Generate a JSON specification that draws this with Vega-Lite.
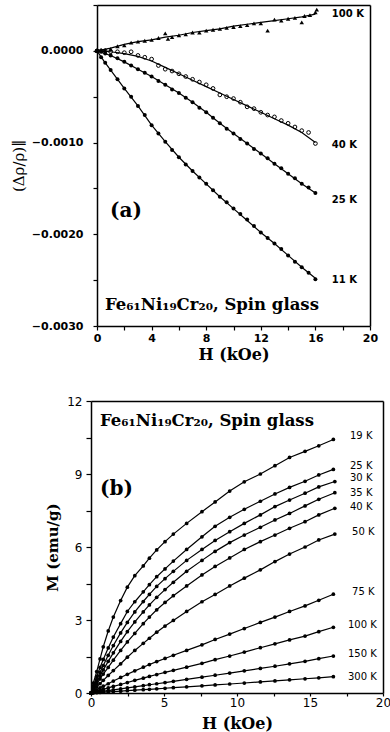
{
  "$schema": "https://vega.github.io/schema/vega-lite/v6.json",
  "autosize": "none",
  "padding": {"left": 91, "top": 5, "right": 299, "bottom": 727},
  "background": "white",
  "spacing": 33,
  "config": {
    "view": {"stroke": null},
    "axis": {"grid": false, "domainColor": "black", "tickColor": "black", "labelColor": "black", "titleColor": "black", "domainWidth": 1.5, "tickWidth": 1.2, "labelOverlap": false, "labelFlush": false}
  },
  "datasets": {
    "fitA": [
      {"T":"100 K","H":0,"v":0},{"T":"100 K","H":1,"v":0.00003},{"T":"100 K","H":2,"v":0.00007},{"T":"100 K","H":3,"v":0.0001},{"T":"100 K","H":4,"v":0.00012},{"T":"100 K","H":5,"v":0.00015},{"T":"100 K","H":6,"v":0.00017},{"T":"100 K","H":7,"v":0.0002},{"T":"100 K","H":8,"v":0.00022},{"T":"100 K","H":9,"v":0.00024},{"T":"100 K","H":10,"v":0.00027},{"T":"100 K","H":11,"v":0.00029},{"T":"100 K","H":12,"v":0.00031},{"T":"100 K","H":13,"v":0.00033},{"T":"100 K","H":14,"v":0.00035},{"T":"100 K","H":15,"v":0.00037},{"T":"100 K","H":16,"v":0.0004},
      {"T":"40 K","H":0,"v":0},{"T":"40 K","H":1,"v":-0.00001},{"T":"40 K","H":2,"v":-0.00003},{"T":"40 K","H":3,"v":-0.00006},{"T":"40 K","H":4,"v":-0.00011},{"T":"40 K","H":5,"v":-0.00018},{"T":"40 K","H":6,"v":-0.00025},{"T":"40 K","H":7,"v":-0.00032},{"T":"40 K","H":8,"v":-0.00039},{"T":"40 K","H":9,"v":-0.00046},{"T":"40 K","H":10,"v":-0.00053},{"T":"40 K","H":11,"v":-0.0006},{"T":"40 K","H":12,"v":-0.00067},{"T":"40 K","H":13,"v":-0.00074},{"T":"40 K","H":14,"v":-0.00081},{"T":"40 K","H":15,"v":-0.00089},{"T":"40 K","H":16,"v":-0.001},
      {"T":"25 K","H":0,"v":0},{"T":"25 K","H":1,"v":-0.00005},{"T":"25 K","H":2,"v":-0.00012},{"T":"25 K","H":3,"v":-0.0002},{"T":"25 K","H":4,"v":-0.00028},{"T":"25 K","H":5,"v":-0.00037},{"T":"25 K","H":6,"v":-0.00046},{"T":"25 K","H":7,"v":-0.00056},{"T":"25 K","H":8,"v":-0.00067},{"T":"25 K","H":9,"v":-0.00079},{"T":"25 K","H":10,"v":-0.0009},{"T":"25 K","H":11,"v":-0.00101},{"T":"25 K","H":12,"v":-0.00112},{"T":"25 K","H":13,"v":-0.00123},{"T":"25 K","H":14,"v":-0.00134},{"T":"25 K","H":15,"v":-0.00145},{"T":"25 K","H":16,"v":-0.00155},
      {"T":"11 K","H":0,"v":0},{"T":"11 K","H":0.5,"v":-0.00011},{"T":"11 K","H":1,"v":-0.00021},{"T":"11 K","H":2,"v":-0.00041},{"T":"11 K","H":3,"v":-0.0006},{"T":"11 K","H":4,"v":-0.00081},{"T":"11 K","H":5,"v":-0.00099},{"T":"11 K","H":6,"v":-0.00116},{"T":"11 K","H":7,"v":-0.00131},{"T":"11 K","H":8,"v":-0.00145},{"T":"11 K","H":9,"v":-0.00159},{"T":"11 K","H":10,"v":-0.00172},{"T":"11 K","H":11,"v":-0.00185},{"T":"11 K","H":12,"v":-0.00198},{"T":"11 K","H":13,"v":-0.0021},{"T":"11 K","H":14,"v":-0.00223},{"T":"11 K","H":15,"v":-0.00236},{"T":"11 K","H":16,"v":-0.00248}
    ],
    "ptsA": [
      {"T":"100 K","H":0,"v":0},{"T":"100 K","H":0.3,"v":0.00001},{"T":"100 K","H":0.6,"v":0.00001},{"T":"100 K","H":1,"v":0.00002},{"T":"100 K","H":1.5,"v":0.00005},{"T":"100 K","H":2,"v":0.00006},{"T":"100 K","H":2.5,"v":0.00009},{"T":"100 K","H":3,"v":0.0001},{"T":"100 K","H":3.5,"v":0.00011},{"T":"100 K","H":4,"v":0.00012},{"T":"100 K","H":4.5,"v":0.00014},{"T":"100 K","H":5,"v":0.00019},{"T":"100 K","H":5.2,"v":0.00013},{"T":"100 K","H":5.5,"v":0.00015},{"T":"100 K","H":6,"v":0.00017},{"T":"100 K","H":6.5,"v":0.00018},{"T":"100 K","H":7,"v":0.0002},{"T":"100 K","H":7.5,"v":0.0002},{"T":"100 K","H":8,"v":0.00022},{"T":"100 K","H":8.5,"v":0.00023},{"T":"100 K","H":9,"v":0.00024},{"T":"100 K","H":9.5,"v":0.00025},{"T":"100 K","H":10,"v":0.00026},{"T":"100 K","H":10.5,"v":0.00027},{"T":"100 K","H":11,"v":0.00028},{"T":"100 K","H":11.5,"v":0.0003},{"T":"100 K","H":12,"v":0.0003},{"T":"100 K","H":12.5,"v":0.00022},{"T":"100 K","H":13,"v":0.00034},{"T":"100 K","H":13.5,"v":0.00033},{"T":"100 K","H":14,"v":0.00035},{"T":"100 K","H":14.5,"v":0.00036},{"T":"100 K","H":15,"v":0.00031},{"T":"100 K","H":15.2,"v":0.00038},{"T":"100 K","H":15.6,"v":0.00039},{"T":"100 K","H":16,"v":0.00042},{"T":"100 K","H":16.1,"v":0.00045},
      {"T":"40 K","H":0,"v":0},{"T":"40 K","H":0.3,"v":0},{"T":"40 K","H":0.6,"v":0},{"T":"40 K","H":1,"v":-0.00001},{"T":"40 K","H":1.5,"v":-0.00001},{"T":"40 K","H":2,"v":-0.00002},{"T":"40 K","H":2.5,"v":-0.00001},{"T":"40 K","H":3,"v":-0.00005},{"T":"40 K","H":3.5,"v":-0.00007},{"T":"40 K","H":4,"v":-0.00009},{"T":"40 K","H":4.5,"v":-0.00016},{"T":"40 K","H":5,"v":-0.0002},{"T":"40 K","H":5.5,"v":-0.00022},{"T":"40 K","H":6,"v":-0.00025},{"T":"40 K","H":6.5,"v":-0.00028},{"T":"40 K","H":7,"v":-0.00031},{"T":"40 K","H":7.5,"v":-0.00034},{"T":"40 K","H":8,"v":-0.00037},{"T":"40 K","H":8.5,"v":-0.00041},{"T":"40 K","H":9,"v":-0.00048},{"T":"40 K","H":9.5,"v":-0.0005},{"T":"40 K","H":10,"v":-0.00052},{"T":"40 K","H":10.5,"v":-0.00056},{"T":"40 K","H":11,"v":-0.00061},{"T":"40 K","H":11.5,"v":-0.00063},{"T":"40 K","H":12,"v":-0.00067},{"T":"40 K","H":12.5,"v":-0.0007},{"T":"40 K","H":13,"v":-0.00072},{"T":"40 K","H":13.5,"v":-0.00076},{"T":"40 K","H":14,"v":-0.00079},{"T":"40 K","H":14.5,"v":-0.00083},{"T":"40 K","H":15,"v":-0.00087},{"T":"40 K","H":15.5,"v":-0.00089},{"T":"40 K","H":16,"v":-0.00101},
      {"T":"25 K","H":0,"v":0},{"T":"25 K","H":0.3,"v":-0.00001},{"T":"25 K","H":0.6,"v":-0.00003},{"T":"25 K","H":1,"v":-0.00005},{"T":"25 K","H":1.5,"v":-0.00008},{"T":"25 K","H":2,"v":-0.00012},{"T":"25 K","H":2.5,"v":-0.00016},{"T":"25 K","H":3,"v":-0.0002},{"T":"25 K","H":3.5,"v":-0.00024},{"T":"25 K","H":4,"v":-0.00028},{"T":"25 K","H":4.5,"v":-0.00033},{"T":"25 K","H":5,"v":-0.00037},{"T":"25 K","H":5.5,"v":-0.00042},{"T":"25 K","H":6,"v":-0.00046},{"T":"25 K","H":6.5,"v":-0.00051},{"T":"25 K","H":7,"v":-0.00056},{"T":"25 K","H":7.5,"v":-0.00062},{"T":"25 K","H":8,"v":-0.00067},{"T":"25 K","H":8.5,"v":-0.00073},{"T":"25 K","H":9,"v":-0.00079},{"T":"25 K","H":9.5,"v":-0.00085},{"T":"25 K","H":10,"v":-0.0009},{"T":"25 K","H":10.5,"v":-0.00096},{"T":"25 K","H":11,"v":-0.00101},{"T":"25 K","H":11.5,"v":-0.00107},{"T":"25 K","H":12,"v":-0.00112},{"T":"25 K","H":12.5,"v":-0.00117},{"T":"25 K","H":13,"v":-0.00123},{"T":"25 K","H":13.5,"v":-0.00128},{"T":"25 K","H":14,"v":-0.00134},{"T":"25 K","H":14.5,"v":-0.00139},{"T":"25 K","H":15,"v":-0.00145},{"T":"25 K","H":15.5,"v":-0.00149},{"T":"25 K","H":16,"v":-0.00155},
      {"T":"11 K","H":0,"v":0},{"T":"11 K","H":0.3,"v":-0.00007},{"T":"11 K","H":0.6,"v":-0.00013},{"T":"11 K","H":1,"v":-0.00021},{"T":"11 K","H":1.5,"v":-0.00031},{"T":"11 K","H":2,"v":-0.00041},{"T":"11 K","H":2.5,"v":-0.0005},{"T":"11 K","H":3,"v":-0.0006},{"T":"11 K","H":3.5,"v":-0.0007},{"T":"11 K","H":4,"v":-0.00081},{"T":"11 K","H":4.5,"v":-0.0009},{"T":"11 K","H":5,"v":-0.00099},{"T":"11 K","H":5.5,"v":-0.00108},{"T":"11 K","H":6,"v":-0.00116},{"T":"11 K","H":6.5,"v":-0.00124},{"T":"11 K","H":7,"v":-0.00131},{"T":"11 K","H":7.5,"v":-0.00138},{"T":"11 K","H":8,"v":-0.00145},{"T":"11 K","H":8.5,"v":-0.00152},{"T":"11 K","H":9,"v":-0.00159},{"T":"11 K","H":9.5,"v":-0.00165},{"T":"11 K","H":10,"v":-0.00172},{"T":"11 K","H":10.5,"v":-0.00178},{"T":"11 K","H":11,"v":-0.00184},{"T":"11 K","H":11.5,"v":-0.00191},{"T":"11 K","H":12,"v":-0.00198},{"T":"11 K","H":12.5,"v":-0.00204},{"T":"11 K","H":13,"v":-0.0021},{"T":"11 K","H":13.5,"v":-0.00216},{"T":"11 K","H":14,"v":-0.00223},{"T":"11 K","H":14.5,"v":-0.0023},{"T":"11 K","H":15,"v":-0.00236},{"T":"11 K","H":15.5,"v":-0.00242},{"T":"11 K","H":16,"v":-0.00249}
    ],
    "labA": [
      {"label":"100 K","H":17.2,"v":0.000407},{"label":"40 K","H":17.2,"v":-0.00103},{"label":"25 K","H":17.2,"v":-0.00163},{"label":"11 K","H":17.2,"v":-0.0025}
    ],
    "annA": [
      {"label":"(a)","H":0.95,"v":-0.00175,"kind":"tag"},
      {"label":"Fe₆₁Ni₁₉Cr₂₀,  Spin  glass","H":0.59,"v":-0.00277,"kind":"title"}
    ],
    "mag": [
      {"T":"19 K","H":0,"M":0},{"T":"19 K","H":0.16,"M":0.41},{"T":"19 K","H":0.39,"M":0.88},{"T":"19 K","H":0.62,"M":1.4},{"T":"19 K","H":0.84,"M":1.9},{"T":"19 K","H":1.18,"M":2.55},{"T":"19 K","H":1.53,"M":3.12},{"T":"19 K","H":2.03,"M":3.8},{"T":"19 K","H":2.49,"M":4.35},{"T":"19 K","H":3.0,"M":4.82},{"T":"19 K","H":3.58,"M":5.22},{"T":"19 K","H":4.0,"M":5.54},{"T":"19 K","H":4.5,"M":5.88},{"T":"19 K","H":5.07,"M":6.22},{"T":"19 K","H":5.64,"M":6.53},{"T":"19 K","H":6.55,"M":6.97},{"T":"19 K","H":7.6,"M":7.45},{"T":"19 K","H":8.5,"M":7.85},{"T":"19 K","H":9.5,"M":8.3},{"T":"19 K","H":10.5,"M":8.68},{"T":"19 K","H":11.6,"M":9.0},{"T":"19 K","H":12.6,"M":9.34},{"T":"19 K","H":13.6,"M":9.68},{"T":"19 K","H":14.66,"M":9.93},{"T":"19 K","H":15.6,"M":10.16},{"T":"19 K","H":16.6,"M":10.42},
      {"T":"25 K","H":0,"M":0},{"T":"25 K","H":0.16,"M":0.28},{"T":"25 K","H":0.39,"M":0.68},{"T":"25 K","H":0.62,"M":1.05},{"T":"25 K","H":0.84,"M":1.38},{"T":"25 K","H":1.18,"M":1.85},{"T":"25 K","H":1.53,"M":2.3},{"T":"25 K","H":2.03,"M":2.85},{"T":"25 K","H":2.49,"M":3.35},{"T":"25 K","H":3.0,"M":3.75},{"T":"25 K","H":3.58,"M":4.16},{"T":"25 K","H":4.0,"M":4.45},{"T":"25 K","H":4.5,"M":4.78},{"T":"25 K","H":5.07,"M":5.1},{"T":"25 K","H":5.64,"M":5.42},{"T":"25 K","H":6.55,"M":5.9},{"T":"25 K","H":7.6,"M":6.42},{"T":"25 K","H":8.5,"M":6.85},{"T":"25 K","H":9.5,"M":7.22},{"T":"25 K","H":10.5,"M":7.55},{"T":"25 K","H":11.6,"M":7.88},{"T":"25 K","H":12.6,"M":8.18},{"T":"25 K","H":13.6,"M":8.45},{"T":"25 K","H":14.66,"M":8.7},{"T":"25 K","H":15.6,"M":8.96},{"T":"25 K","H":16.6,"M":9.19},
      {"T":"30 K","H":0,"M":0},{"T":"30 K","H":0.16,"M":0.22},{"T":"30 K","H":0.39,"M":0.55},{"T":"30 K","H":0.62,"M":0.85},{"T":"30 K","H":0.84,"M":1.13},{"T":"30 K","H":1.18,"M":1.55},{"T":"30 K","H":1.53,"M":1.95},{"T":"30 K","H":2.03,"M":2.47},{"T":"30 K","H":2.49,"M":2.9},{"T":"30 K","H":3.0,"M":3.33},{"T":"30 K","H":3.58,"M":3.76},{"T":"30 K","H":4.0,"M":4.05},{"T":"30 K","H":4.5,"M":4.38},{"T":"30 K","H":5.07,"M":4.7},{"T":"30 K","H":5.64,"M":5.0},{"T":"30 K","H":6.55,"M":5.45},{"T":"30 K","H":7.6,"M":5.9},{"T":"30 K","H":8.5,"M":6.27},{"T":"30 K","H":9.5,"M":6.63},{"T":"30 K","H":10.5,"M":6.97},{"T":"30 K","H":11.6,"M":7.32},{"T":"30 K","H":12.6,"M":7.66},{"T":"30 K","H":13.6,"M":7.93},{"T":"30 K","H":14.66,"M":8.21},{"T":"30 K","H":15.6,"M":8.47},{"T":"30 K","H":16.7,"M":8.69},
      {"T":"35 K","H":0,"M":0},{"T":"35 K","H":0.16,"M":0.18},{"T":"35 K","H":0.39,"M":0.45},{"T":"35 K","H":0.62,"M":0.7},{"T":"35 K","H":0.84,"M":0.95},{"T":"35 K","H":1.18,"M":1.3},{"T":"35 K","H":1.53,"M":1.65},{"T":"35 K","H":2.03,"M":2.12},{"T":"35 K","H":2.49,"M":2.52},{"T":"35 K","H":3.0,"M":2.92},{"T":"35 K","H":3.58,"M":3.33},{"T":"35 K","H":4.0,"M":3.62},{"T":"35 K","H":4.5,"M":3.93},{"T":"35 K","H":5.07,"M":4.25},{"T":"35 K","H":5.64,"M":4.55},{"T":"35 K","H":6.55,"M":5.0},{"T":"35 K","H":7.6,"M":5.45},{"T":"35 K","H":8.5,"M":5.82},{"T":"35 K","H":9.5,"M":6.18},{"T":"35 K","H":10.5,"M":6.49},{"T":"35 K","H":11.6,"M":6.81},{"T":"35 K","H":12.6,"M":7.11},{"T":"35 K","H":13.6,"M":7.38},{"T":"35 K","H":14.66,"M":7.69},{"T":"35 K","H":15.6,"M":7.96},{"T":"35 K","H":16.7,"M":8.23},
      {"T":"40 K","H":0,"M":0},{"T":"40 K","H":0.16,"M":0.15},{"T":"40 K","H":0.39,"M":0.37},{"T":"40 K","H":0.62,"M":0.58},{"T":"40 K","H":0.84,"M":0.78},{"T":"40 K","H":1.18,"M":1.05},{"T":"40 K","H":1.53,"M":1.35},{"T":"40 K","H":2.03,"M":1.75},{"T":"40 K","H":2.49,"M":2.1},{"T":"40 K","H":3.0,"M":2.45},{"T":"40 K","H":3.58,"M":2.85},{"T":"40 K","H":4.0,"M":3.12},{"T":"40 K","H":4.5,"M":3.42},{"T":"40 K","H":5.07,"M":3.72},{"T":"40 K","H":5.64,"M":4.0},{"T":"40 K","H":6.55,"M":4.4},{"T":"40 K","H":7.6,"M":4.85},{"T":"40 K","H":8.5,"M":5.2},{"T":"40 K","H":9.5,"M":5.55},{"T":"40 K","H":10.5,"M":5.9},{"T":"40 K","H":11.6,"M":6.22},{"T":"40 K","H":12.6,"M":6.49},{"T":"40 K","H":13.6,"M":6.77},{"T":"40 K","H":14.66,"M":7.04},{"T":"40 K","H":15.6,"M":7.32},{"T":"40 K","H":16.7,"M":7.59},
      {"T":"50 K","H":0,"M":0},{"T":"50 K","H":0.16,"M":0.1},{"T":"50 K","H":0.39,"M":0.25},{"T":"50 K","H":0.62,"M":0.39},{"T":"50 K","H":0.84,"M":0.52},{"T":"50 K","H":1.18,"M":0.72},{"T":"50 K","H":1.53,"M":0.92},{"T":"50 K","H":2.03,"M":1.2},{"T":"50 K","H":2.49,"M":1.47},{"T":"50 K","H":3.0,"M":1.75},{"T":"50 K","H":3.58,"M":2.04},{"T":"50 K","H":4.0,"M":2.25},{"T":"50 K","H":4.5,"M":2.5},{"T":"50 K","H":5.07,"M":2.75},{"T":"50 K","H":5.64,"M":2.98},{"T":"50 K","H":6.55,"M":3.35},{"T":"50 K","H":7.6,"M":3.75},{"T":"50 K","H":8.5,"M":4.05},{"T":"50 K","H":9.5,"M":4.4},{"T":"50 K","H":10.5,"M":4.72},{"T":"50 K","H":11.6,"M":5.06},{"T":"50 K","H":12.6,"M":5.4},{"T":"50 K","H":13.6,"M":5.71},{"T":"50 K","H":14.66,"M":6.0},{"T":"50 K","H":15.6,"M":6.29},{"T":"50 K","H":16.7,"M":6.53},
      {"T":"75 K","H":0,"M":0},{"T":"75 K","H":0.16,"M":0.05},{"T":"75 K","H":0.39,"M":0.13},{"T":"75 K","H":0.62,"M":0.21},{"T":"75 K","H":0.84,"M":0.28},{"T":"75 K","H":1.18,"M":0.38},{"T":"75 K","H":1.53,"M":0.49},{"T":"75 K","H":2.03,"M":0.64},{"T":"75 K","H":2.49,"M":0.77},{"T":"75 K","H":3.0,"M":0.91},{"T":"75 K","H":3.58,"M":1.06},{"T":"75 K","H":4.0,"M":1.17},{"T":"75 K","H":4.5,"M":1.29},{"T":"75 K","H":5.07,"M":1.42},{"T":"75 K","H":5.64,"M":1.55},{"T":"75 K","H":6.55,"M":1.75},{"T":"75 K","H":7.6,"M":1.98},{"T":"75 K","H":8.5,"M":2.2},{"T":"75 K","H":9.5,"M":2.42},{"T":"75 K","H":10.5,"M":2.65},{"T":"75 K","H":11.6,"M":2.9},{"T":"75 K","H":12.6,"M":3.12},{"T":"75 K","H":13.6,"M":3.35},{"T":"75 K","H":14.66,"M":3.58},{"T":"75 K","H":15.6,"M":3.81},{"T":"75 K","H":16.6,"M":4.06},
      {"T":"100 K","H":0,"M":0},{"T":"100 K","H":0.16,"M":0.03},{"T":"100 K","H":0.39,"M":0.07},{"T":"100 K","H":0.62,"M":0.11},{"T":"100 K","H":0.84,"M":0.15},{"T":"100 K","H":1.18,"M":0.21},{"T":"100 K","H":1.53,"M":0.27},{"T":"100 K","H":2.03,"M":0.35},{"T":"100 K","H":2.49,"M":0.43},{"T":"100 K","H":3.0,"M":0.52},{"T":"100 K","H":3.58,"M":0.61},{"T":"100 K","H":4.0,"M":0.68},{"T":"100 K","H":4.5,"M":0.76},{"T":"100 K","H":5.07,"M":0.85},{"T":"100 K","H":5.64,"M":0.93},{"T":"100 K","H":6.55,"M":1.06},{"T":"100 K","H":7.6,"M":1.22},{"T":"100 K","H":8.5,"M":1.37},{"T":"100 K","H":9.5,"M":1.52},{"T":"100 K","H":10.5,"M":1.68},{"T":"100 K","H":11.6,"M":1.86},{"T":"100 K","H":12.6,"M":2.02},{"T":"100 K","H":13.6,"M":2.18},{"T":"100 K","H":14.66,"M":2.34},{"T":"100 K","H":15.6,"M":2.52},{"T":"100 K","H":16.6,"M":2.7},
      {"T":"150 K","H":0,"M":0},{"T":"150 K","H":0.16,"M":0.015},{"T":"150 K","H":0.39,"M":0.035},{"T":"150 K","H":0.62,"M":0.055},{"T":"150 K","H":0.84,"M":0.075},{"T":"150 K","H":1.18,"M":0.1},{"T":"150 K","H":1.53,"M":0.13},{"T":"150 K","H":2.03,"M":0.17},{"T":"150 K","H":2.49,"M":0.21},{"T":"150 K","H":3.0,"M":0.25},{"T":"150 K","H":3.58,"M":0.3},{"T":"150 K","H":4.0,"M":0.34},{"T":"150 K","H":4.5,"M":0.38},{"T":"150 K","H":5.07,"M":0.43},{"T":"150 K","H":5.64,"M":0.48},{"T":"150 K","H":6.55,"M":0.56},{"T":"150 K","H":7.6,"M":0.65},{"T":"150 K","H":8.5,"M":0.73},{"T":"150 K","H":9.5,"M":0.82},{"T":"150 K","H":10.5,"M":0.91},{"T":"150 K","H":11.6,"M":1.01},{"T":"150 K","H":12.6,"M":1.1},{"T":"150 K","H":13.6,"M":1.2},{"T":"150 K","H":14.66,"M":1.3},{"T":"150 K","H":15.6,"M":1.41},{"T":"150 K","H":16.6,"M":1.52},
      {"T":"300 K","H":0,"M":0},{"T":"300 K","H":0.16,"M":0.006},{"T":"300 K","H":0.39,"M":0.015},{"T":"300 K","H":0.62,"M":0.024},{"T":"300 K","H":0.84,"M":0.032},{"T":"300 K","H":1.18,"M":0.045},{"T":"300 K","H":1.53,"M":0.058},{"T":"300 K","H":2.03,"M":0.077},{"T":"300 K","H":2.49,"M":0.095},{"T":"300 K","H":3.0,"M":0.115},{"T":"300 K","H":3.58,"M":0.137},{"T":"300 K","H":4.0,"M":0.153},{"T":"300 K","H":4.5,"M":0.172},{"T":"300 K","H":5.07,"M":0.195},{"T":"300 K","H":5.64,"M":0.217},{"T":"300 K","H":6.55,"M":0.252},{"T":"300 K","H":7.6,"M":0.293},{"T":"300 K","H":8.5,"M":0.33},{"T":"300 K","H":9.5,"M":0.37},{"T":"300 K","H":10.5,"M":0.41},{"T":"300 K","H":11.6,"M":0.455},{"T":"300 K","H":12.6,"M":0.495},{"T":"300 K","H":13.6,"M":0.54},{"T":"300 K","H":14.66,"M":0.585},{"T":"300 K","H":15.6,"M":0.625},{"T":"300 K","H":16.6,"M":0.67}
    ],
    "labB": [
      {"label":"19 K","H":17.74,"M":10.56},{"label":"25 K","H":17.74,"M":9.33},{"label":"30 K","H":17.74,"M":8.82},{"label":"35 K","H":17.74,"M":8.23},{"label":"40 K","H":17.74,"M":7.66},{"label":"50 K","H":17.88,"M":6.63},{"label":"75 K","H":17.88,"M":4.16},{"label":"100 K","H":17.6,"M":2.79},{"label":"150 K","H":17.6,"M":1.6},{"label":"300 K","H":17.6,"M":0.67}
    ],
    "annB": [
      {"label":"(b)","H":0.62,"M":8.38,"kind":"tag"},
      {"label":"Fe₆₁Ni₁₉Cr₂₀,  Spin  glass","H":0.62,"M":11.18,"kind":"title"}
    ]
  },
  "vconcat": [
    {
      "width": 279,
      "height": 321,
      "resolve": {"axis": {"x": "independent", "y": "independent"}},
      "layer": [
        {
          "data": {"name": "fitA"},
          "mark": {"type": "line", "color": "black", "strokeWidth": 1.2},
          "encoding": {
            "x": {"field": "H", "type": "quantitative", "scale": {"domain": [0, 20], "range": [6, 279], "nice": false, "zero": false},
              "axis": {"orient": "bottom", "values": [0,2,4,6,8,10,12,14,16,18,20], "labelExpr": "datum.value % 4 === 0 ? datum.label : ''", "title": "H (kOe)", "tickSize": 4, "labelPadding": 2, "labelFont": "DejaVu Sans", "labelFontSize": 11, "labelFontWeight": "bold", "titleFont": "DejaVu Serif", "titleFontSize": 16, "titleFontWeight": "bold", "titlePadding": 3}},
            "y": {"field": "v", "type": "quantitative", "scale": {"domain": [-0.003, 0.0005], "nice": false, "zero": false},
              "axis": {"orient": "left", "offset": -6, "values": [-0.003,-0.0025,-0.002,-0.0015,-0.001,-0.0005,0,0.0005], "labelExpr": "abs(datum.value*1000 - round(datum.value*1000)) < 0.001 && datum.value <= 0 ? format(datum.value, '.4f') : ''", "title": "(Δρ/ρ)∥", "tickSize": 4, "labelPadding": 10, "labelFont": "DejaVu Sans", "labelFontSize": 11, "labelFontWeight": "bold", "titleFont": "DejaVu Serif", "titleFontSize": 15, "titleFontWeight": "normal", "titlePadding": 5}},
            "detail": {"field": "T"}
          }
        },
        {
          "mark": {"type": "rule", "color": "black", "strokeWidth": 1},
          "encoding": {
            "x": {"datum": 0, "type": "quantitative", "scale": {"domain": [0, 20], "range": [6, 279], "nice": false, "zero": false}, "axis": {"orient": "top", "labels": false, "ticks": false, "title": null}},
            "x2": {"datum": 20},
            "y": {"datum": 0, "type": "quantitative", "scale": {"domain": [-0.003, 0.0005], "nice": false, "zero": false}, "axis": {"orient": "right", "labels": false, "ticks": false, "title": null}}
          }
        },
        {
          "data": {"name": "ptsA"},
          "transform": [{"filter": "datum.T === '25 K' || datum.T === '11 K'"}],
          "mark": {"type": "point", "shape": "circle", "filled": true, "color": "black", "size": 16, "opacity": 1},
          "encoding": {
            "x": {"field": "H", "type": "quantitative", "scale": {"domain": [0, 20], "range": [6, 279], "nice": false, "zero": false}, "axis": null},
            "y": {"field": "v", "type": "quantitative", "scale": {"domain": [-0.003, 0.0005], "nice": false, "zero": false}, "axis": null}
          }
        },
        {
          "data": {"name": "ptsA"},
          "transform": [{"filter": "datum.T === '40 K'"}],
          "mark": {"type": "point", "shape": "circle", "filled": false, "color": "black", "size": 14, "strokeWidth": 1, "opacity": 1},
          "encoding": {
            "x": {"field": "H", "type": "quantitative", "scale": {"domain": [0, 20], "range": [6, 279], "nice": false, "zero": false}, "axis": null},
            "y": {"field": "v", "type": "quantitative", "scale": {"domain": [-0.003, 0.0005], "nice": false, "zero": false}, "axis": null}
          }
        },
        {
          "data": {"name": "ptsA"},
          "transform": [{"filter": "datum.T === '100 K'"}],
          "mark": {"type": "point", "shape": "triangle-up", "filled": true, "color": "black", "size": 20, "opacity": 1},
          "encoding": {
            "x": {"field": "H", "type": "quantitative", "scale": {"domain": [0, 20], "range": [6, 279], "nice": false, "zero": false}, "axis": null},
            "y": {"field": "v", "type": "quantitative", "scale": {"domain": [-0.003, 0.0005], "nice": false, "zero": false}, "axis": null}
          }
        },
        {
          "data": {"name": "labA"},
          "mark": {"type": "text", "align": "left", "baseline": "middle", "font": "DejaVu Sans", "fontSize": 10, "fontWeight": "bold", "color": "black"},
          "encoding": {
            "x": {"field": "H", "type": "quantitative", "scale": {"domain": [0, 20], "range": [6, 279], "nice": false, "zero": false}, "axis": null},
            "y": {"field": "v", "type": "quantitative", "scale": {"domain": [-0.003, 0.0005], "nice": false, "zero": false}, "axis": null},
            "text": {"field": "label"}
          }
        },
        {
          "data": {"name": "annA"},
          "mark": {"type": "text", "align": "left", "baseline": "middle", "font": "DejaVu Serif", "fontWeight": "bold", "color": "black"},
          "encoding": {
            "x": {"field": "H", "type": "quantitative", "scale": {"domain": [0, 20], "range": [6, 279], "nice": false, "zero": false}, "axis": null},
            "y": {"field": "v", "type": "quantitative", "scale": {"domain": [-0.003, 0.0005], "nice": false, "zero": false}, "axis": null},
            "text": {"field": "label"},
            "size": {"field": "kind", "type": "nominal", "scale": {"domain": ["tag", "title"], "range": [20, 16.5]}, "legend": null}
          }
        }
      ]
    },
    {
      "width": 292,
      "height": 292,
      "resolve": {"axis": {"x": "independent", "y": "independent"}},
      "layer": [
        {
          "data": {"name": "mag"},
          "mark": {"type": "line", "color": "black", "strokeWidth": 1.2},
          "encoding": {
            "x": {"field": "H", "type": "quantitative", "scale": {"domain": [0, 20], "nice": false, "zero": false},
              "axis": {"orient": "bottom", "values": [0,2.5,5,7.5,10,12.5,15,17.5,20], "labelExpr": "datum.value % 5 === 0 ? datum.label : ''", "title": "H (kOe)", "tickSize": 3, "labelPadding": 1, "labelFont": "DejaVu Sans", "labelFontSize": 12, "titleFont": "DejaVu Serif", "titleFontSize": 16, "titleFontWeight": "bold", "titlePadding": 7}},
            "y": {"field": "M", "type": "quantitative", "scale": {"domain": [0, 12], "nice": false, "zero": false},
              "axis": {"orient": "left", "values": [0,1.5,3,4.5,6,7.5,9,10.5,12], "labelExpr": "datum.value % 3 === 0 ? datum.label : ''", "title": "M (emu/g)", "tickSize": 5, "labelPadding": 4, "labelFont": "DejaVu Sans", "labelFontSize": 12, "titleFont": "DejaVu Serif", "titleFontSize": 15, "titleFontWeight": "bold", "titlePadding": 6}},
            "detail": {"field": "T"}
          }
        },
        {
          "data": {"name": "mag"},
          "mark": {"type": "point", "shape": "circle", "filled": true, "color": "black", "size": 14, "opacity": 1},
          "encoding": {
            "x": {"field": "H", "type": "quantitative", "scale": {"domain": [0, 20], "nice": false, "zero": false}, "axis": null},
            "y": {"field": "M", "type": "quantitative", "scale": {"domain": [0, 12], "nice": false, "zero": false}, "axis": null}
          }
        },
        {
          "data": {"name": "labB"},
          "mark": {"type": "text", "align": "left", "baseline": "middle", "font": "DejaVu Sans", "fontSize": 10, "color": "black"},
          "encoding": {
            "x": {"field": "H", "type": "quantitative", "scale": {"domain": [0, 20], "nice": false, "zero": false}, "axis": {"orient": "top", "labels": false, "ticks": false, "title": null}},
            "y": {"field": "M", "type": "quantitative", "scale": {"domain": [0, 12], "nice": false, "zero": false}, "axis": {"orient": "right", "labels": false, "ticks": false, "title": null}},
            "text": {"field": "label"}
          }
        },
        {
          "data": {"name": "annB"},
          "mark": {"type": "text", "align": "left", "baseline": "middle", "font": "DejaVu Serif", "fontWeight": "bold", "color": "black"},
          "encoding": {
            "x": {"field": "H", "type": "quantitative", "scale": {"domain": [0, 20], "nice": false, "zero": false}, "axis": null},
            "y": {"field": "M", "type": "quantitative", "scale": {"domain": [0, 12], "nice": false, "zero": false}, "axis": null},
            "text": {"field": "label"},
            "size": {"field": "kind", "type": "nominal", "scale": {"domain": ["tag", "title"], "range": [20, 16.5]}, "legend": null}
          }
        }
      ]
    }
  ]
}
